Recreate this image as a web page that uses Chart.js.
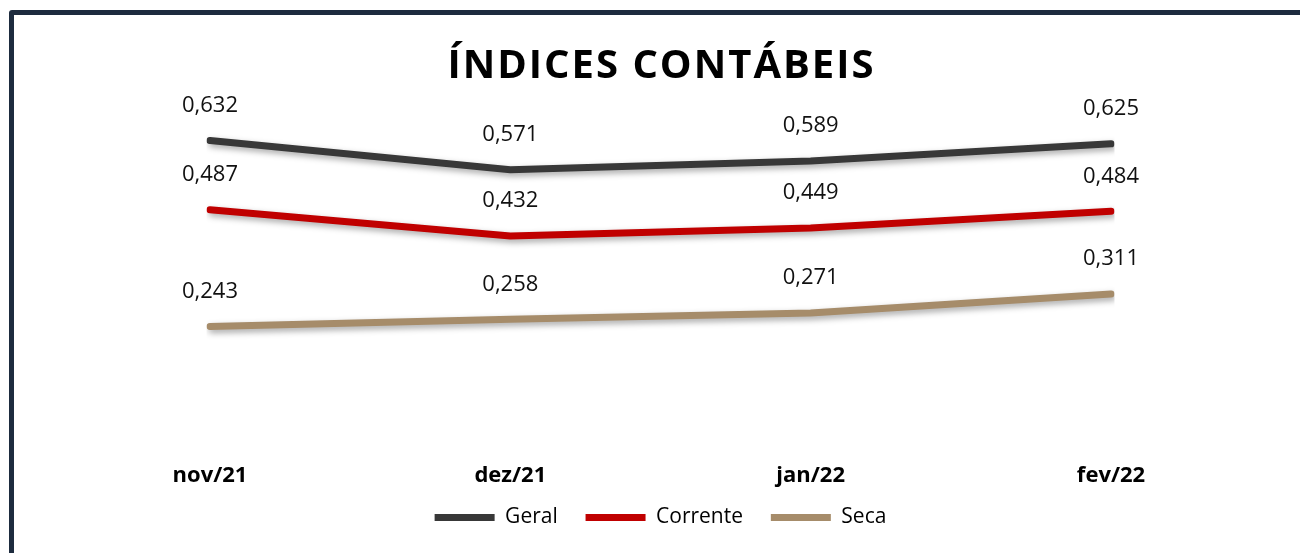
<!DOCTYPE html>
<html>
<head>
<meta charset="utf-8">
<script src="https://cdn.jsdelivr.net/npm/chart.js@4"></script>
<style>
  html, body { margin: 0; padding: 0; background: #fff; overflow: hidden; }
  #frame {
    position: absolute; left: 9px; top: 10px;
    width: 1400px; height: 700px;
    border: 5px solid #1d2b3e; border-radius: 3px;
    box-sizing: border-box;
  }
  #wrap { position: absolute; left: 0; top: 0; width: 1300px; height: 553px; }
</style>
</head>
<body>
<div id="frame"></div>
<div id="wrap"><canvas id="myChart" width="1300" height="553"></canvas></div>
<script>
// data
var months = ['nov/21', 'dez/21', 'jan/22', 'fev/22'];
var geral = [0.632, 0.571, 0.589, 0.625];
var corrente = [0.487, 0.432, 0.449, 0.484];
var seca = [0.243, 0.258, 0.271, 0.311];
var chartTitle = 'ÍNDICES CONTÁBEIS';

// soft shadow under the lines, like the excel one
const lineShadow = {
  id: 'lineShadow',
  beforeDatasetDraw(chart) {
    const ctx = chart.ctx;
    ctx.save();
    ctx.shadowColor = 'rgba(0,0,0,0.35)';
    ctx.shadowBlur = 6;
    ctx.shadowOffsetX = 2;
    ctx.shadowOffsetY = 3;
  },
  afterDatasetDraw(chart) {
    chart.ctx.restore();
  }
};

// value labels above each point
const valueLabels = {
  id: 'valueLabels',
  afterDatasetsDraw(chart) {
    const ctx = chart.ctx;
    ctx.save();
    ctx.font = '22px "Open Sans"';
    ctx.fillStyle = '#111';
    ctx.textAlign = 'center';
    ctx.textBaseline = 'middle';
    chart.data.datasets.forEach(function (ds, i) {
      const meta = chart.getDatasetMeta(i);
      meta.data.forEach(function (pt, j) {
        const txt = ds.data[j].toFixed(3).replace('.', ',');
        ctx.fillText(txt, pt.x, pt.y - 35);
      });
    });
    ctx.restore();
  }
};

// title with letter spacing (chart.js title has none)
const spacedTitle = {
  id: 'spacedTitle',
  afterDraw(chart) {
    const ctx = chart.ctx;
    const area = chart.chartArea;
    ctx.save();
    ctx.font = 'bold 40px "Open Sans"';
    ctx.letterSpacing = '2px';
    ctx.fillStyle = '#000';
    ctx.textAlign = 'center';
    ctx.textBaseline = 'middle';
    ctx.fillText(chartTitle, (area.left + area.right) / 2 + 1, 67);
    ctx.restore();
  }
};

const data = {
  labels: months,
  datasets: [
    { label: 'Geral', data: geral, borderColor: '#383838', backgroundColor: '#383838' },
    { label: 'Corrente', data: corrente, borderColor: '#c00000', backgroundColor: '#c00000' },
    { label: 'Seca', data: seca, borderColor: '#a68c6a', backgroundColor: '#a68c6a' }
  ].map(function (d) {
    d.borderWidth = 7;
    d.borderCapStyle = 'round';
    d.borderJoinStyle = 'round';
    d.pointRadius = 0;
    d.tension = 0;
    d.fill = false;
    return d;
  })
};

const config = {
  type: 'line',
  data,
  options: {
    responsive: false,
    animation: false,
    layout: { padding: { top: 108, left: 210, right: 189, bottom: 15 } },
    plugins: {
      title: { display: false },
      tooltip: { enabled: false },
      legend: {
        position: 'bottom',
        labels: {
          usePointStyle: true,
          pointStyle: 'line',
          pointStyleWidth: 60,
          padding: 6,
          color: '#000',
          font: { family: 'Open Sans', size: 21 },
          generateLabels(chart) {
            const items = Chart.defaults.plugins.legend.labels.generateLabels(chart);
            // a bit more room between the items
            items.forEach(function (it, i) {
              if (i < items.length - 1) it.text += '    ';
            });
            return items;
          }
        }
      }
    },
    scales: {
      x: {
        offset: false,
        grid: { display: false },
        border: { display: false },
        ticks: {
          padding: 12,
          color: '#000',
          font: { family: 'Open Sans', size: 22, weight: 'bold' }
        }
      },
      y: {
        display: false,
        min: 0,
        max: 0.7
      }
    }
  },
  plugins: [lineShadow, valueLabels, spacedTitle]
};

const myChart = new Chart(document.getElementById('myChart'), config);
</script>
</body>
</html>
